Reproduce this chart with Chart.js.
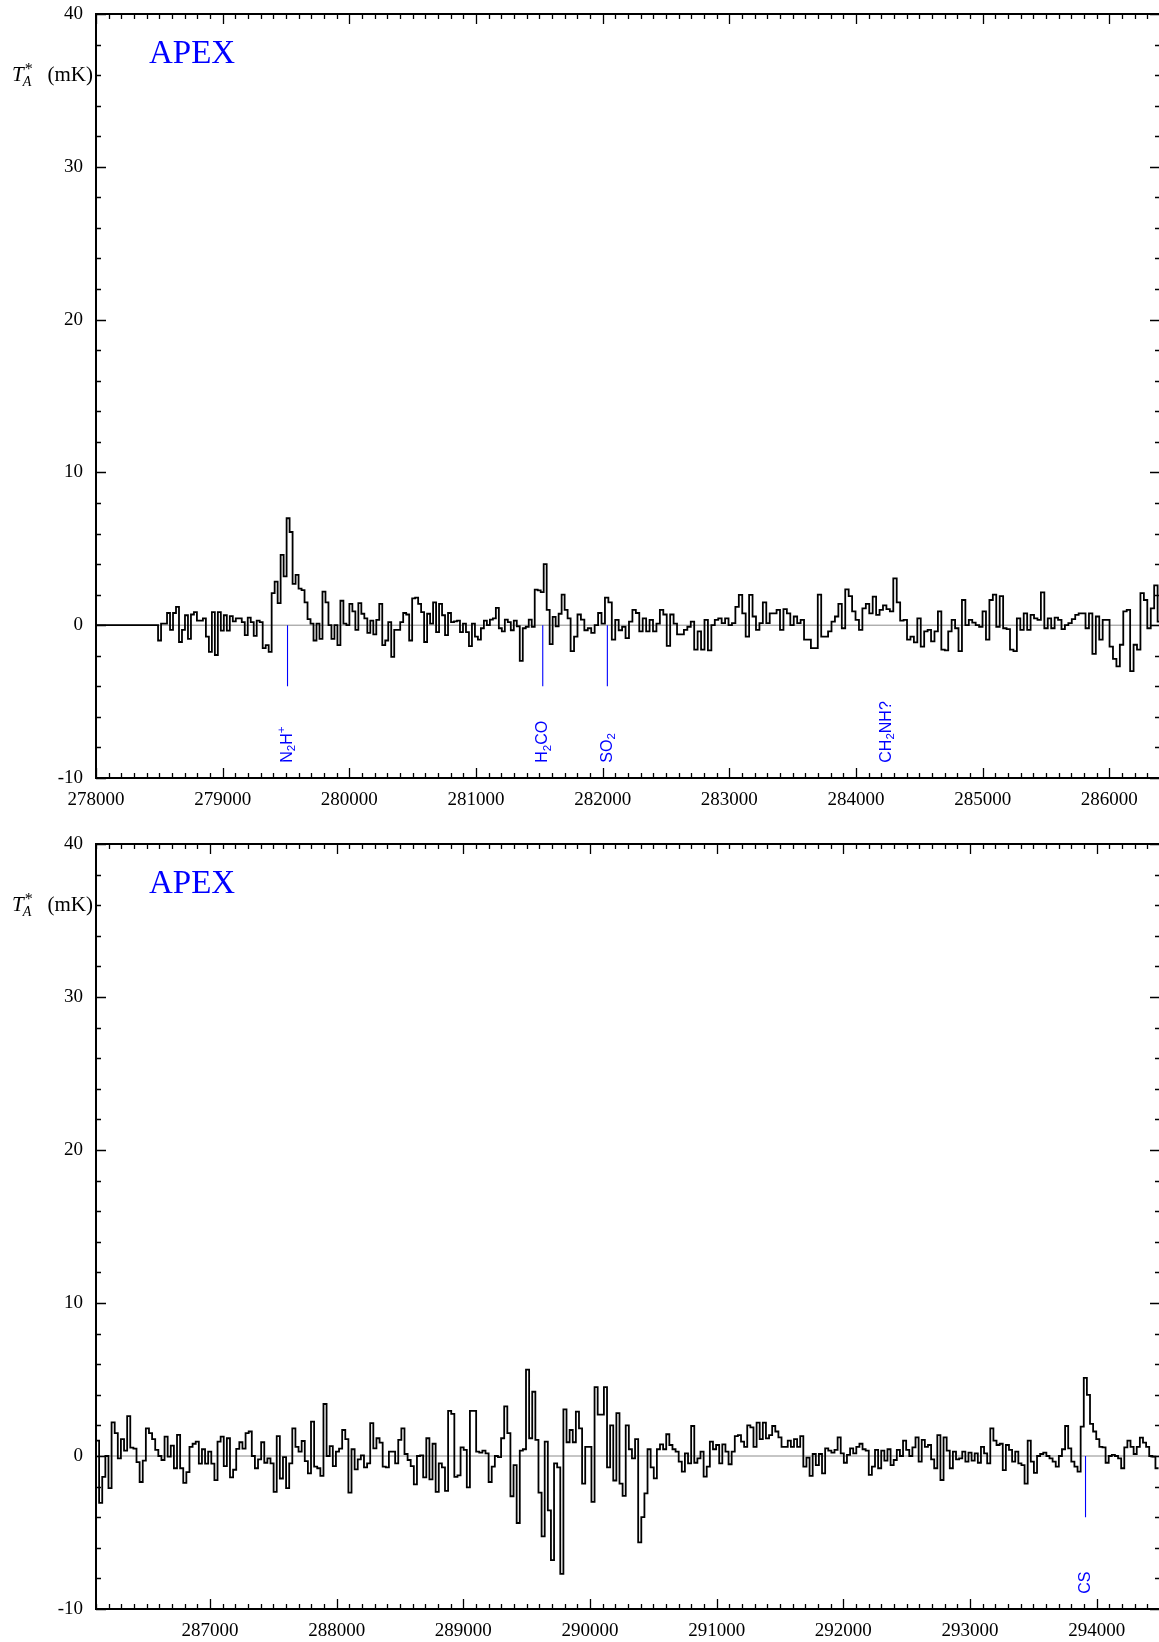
<!DOCTYPE html>
<html><head><meta charset="utf-8">
<script src="https://cdn.jsdelivr.net/npm/chart.js@4.4.1/dist/chart.umd.min.js"></script>
<style>
html,body{margin:0;padding:0;background:#fff;overflow:hidden;width:1159px;height:1642px;}
.wrap{position:absolute;left:0;width:1180px;height:812px;}
canvas{display:block;}
</style></head><body>
<div class="wrap" style="top:0"><canvas id="c1" width="1180" height="812"></canvas></div>
<div class="wrap" style="top:830px"><canvas id="c2" width="1180" height="812"></canvas></div>
<script>
// ---------- axes ----------
const topXRange = [278000, 286400];
const botXRange = [286100, 294500];
const yRange = [-10, 40];
const topXTicks = [278000, 279000, 280000, 281000, 282000, 283000, 284000, 285000, 286000];
const botXTicks = [287000, 288000, 289000, 290000, 291000, 292000, 293000, 294000];
const yTickValues = [-10, 0, 10, 20, 30, 40];
const yAxisTitle = ['T', 'A', '*', '(mK)'];
const panelTitle = 'APEX';

// ---------- top spectrum (MHz, mK) ----------
const topLeadIn = 278000;           // flat zero part before data
const topSegAStart = 278490, topSegAStep = 23.6;
const topSegA = [
 -1.0,0.1,0.1,0.8,-0.3,0.8,1.2,-1.1,-0.3,0.65,
 -0.9,0.7,0.85,0.3,0.3,0.45,-0.75,-1.75,0.85,-1.95,
 0.85,-0.35,0.65,-0.35,0.6,0.25,0.45,0.45,0.2,-0.65,
 0.5,0.2,-0.7,0.3,0.2,-1.5,-1.3,-1.75,2.1,2.85,
 1.45,4.6,3.2,7.0,6.1,2.7,3.3,2.4,2.3,1.5,
 0.4,0.1,-1.0,0.1,-0.9,2.2,1.5,0.0,-0.9,0.0,
 -1.3,1.6,0.1,0.0,1.4,0.9,-0.3,1.45,0.75,0.45,
 -0.5,0.3,-0.6,0.35,1.4,-1.3,-1.0,0.2,-2.07,-0.3,
 -0.3,0.2,0.8,0.7,-1.0,1.75,1.8,1.4,0.85,-1.1,
 0.75,0.1,1.5,-0.45,1.4,0.65,-0.65,0.8,0.2,0.25,
 0.3,-0.45,0.1,-0.45,-1.37,0.1,-0.75,-0.95,-0.2,0.3,
 0.0,0.37,0.45,1.13,-0.2,-0.4,0.37,0.2,-0.33,0.3,
 -0.07,-2.33,-0.2,-0.1,0.37,-0.1,2.33,2.28,2.17,4.0,
 1.0,-1.24,0.55,-0.07,0.75,2.0,1.0,0.45
];
const topSegBStart = 281747, topSegBStep = 27.1;
const topSegB = [
 -1.7,-0.75,0.7,0.37,-0.33,-0.2,-0.5,0.0,0.8,0.1,
 1.8,1.5,-0.95,0.35,-0.33,-0.1,-0.85,0.24,1.0,0.8,
 -0.4,0.45,-0.4,0.35,-0.4,0.1,1.0,0.7,-1.35,0.7,
 0.1,-0.6,-0.6,-0.3,-0.1,0.24,-1.6,-0.4,-1.6,0.35,
 -1.65,0.0,0.35,0.45,0.13,0.45,0.0,0.13,1.2,1.98,
 0.78,-0.75,1.98,0.57,-0.3,0.13,1.5,0.13,0.78,0.78,
 1.0,-0.3,1.05,0.78,0.0,0.57,0.13,0.35,-0.95,-0.95,
 -1.5,-1.5,2.0,-0.75,-0.75,-0.4,0.24,0.57,1.4,-0.2,
 2.35,1.9,0.9,0.35,-0.3,1.1,1.4,0.78,1.87,0.68,
 1.0,1.3,1.05,0.9,3.07,1.5,0.3,0.35,-0.95,-0.75,
 -1.13,0.45,-1.4,-0.4,-0.3,-1.06,-0.4,0.9,-1.6,-1.65,
 -0.4,0.35,-0.2,-1.7,1.65,0.0,0.35,0.17,0.0,-0.1,
 0.9,-0.95,1.65,2.0,-0.1,1.9,-0.2,-0.26,-1.6,-1.7,
 0.45,-0.3,0.78,-0.3,0.68,0.45,0.35,2.15,-0.2,0.45,
 -0.2,0.5,0.35,-0.26,0.0,0.13,0.4,0.68,0.78,0.78,
 -0.2,0.78,-1.88,0.57,-0.95,0.35,0.35,-1.4,-2.2,-2.7,
 -1.28,0.9,1.0,-3.0,-1.28,-1.6,2.1,1.65,-0.2,1.1,
 2.6,0.24
];

// ---------- bottom spectrum ----------
const botStart = 286100, botStep = 24.6;
const botValues = [
 1.0,-3.06,-1.36,0.0,-2.1,2.2,1.5,-0.15,1.1,0.35,
 2.6,0.55,0.48,-0.4,-1.7,-0.3,1.8,1.5,1.1,0.4,
 0.0,-0.26,1.27,-0.04,0.68,-0.8,1.38,-0.8,-1.75,-1.05,
 0.6,0.8,0.94,-0.5,0.44,-0.5,0.28,-0.5,-1.58,0.94,
 1.27,-0.66,1.16,-1.4,-0.9,0.46,0.9,0.48,1.5,1.6,
 0.0,-0.8,-0.22,0.9,-0.44,-0.15,-0.48,-2.35,1.3,-1.47,
 -0.08,-2.1,-0.48,1.8,0.6,0.28,0.98,-0.33,-1.14,2.25,
 -0.7,-0.8,-1.3,3.4,0.0,0.65,-0.66,0.28,0.48,1.7,
 1.1,-2.4,0.44,-0.88,-0.22,0.04,-0.74,-0.48,2.15,0.5,
 1.16,0.88,-0.7,-0.74,0.28,0.28,-0.48,1.05,1.8,0.13,
 -0.26,-0.66,-1.86,0.0,0.04,-1.4,1.16,-1.53,0.8,-2.34,
 -0.48,-0.74,-2.28,2.95,2.75,-1.36,-1.27,0.57,0.4,-2.05,
 2.95,2.95,0.28,0.22,0.35,0.17,-1.7,-0.7,0.0,-0.08,
 1.16,3.24,1.5,-2.63,-0.6,-4.38,0.35,0.44,5.65,1.16,
 4.2,1.05,-2.4,-5.25,0.94,-3.55,-6.8,-0.48,-0.74,-7.7,
 3.05,0.9,1.7,0.9,2.9,1.8,-1.8,0.6,0.6,-3.0,
 4.5,2.7,2.7,4.5,-0.74,2.0,-1.6,2.8,-1.8,-2.6,
 2.0,0.44,-0.15,1.1,-5.65,-4.0,-2.44,0.44,-0.74,-1.46,
 0.44,0.76,0.44,1.42,0.72,0.44,0.28,-0.37,-1.02,0.17,
 -0.48,1.96,-0.44,-0.15,0.28,-1.35,-0.7,0.94,0.44,0.72,
 -0.48,0.76,0.28,-0.54,0.28,1.3,1.37,0.94,0.6,2.0,
 1.87,0.6,2.18,1.1,2.18,1.15,1.37,1.96,1.6,1.22,
 0.6,0.6,1.0,0.6,1.1,0.6,1.3,-0.7,-0.1,-1.3,
 0.13,-0.59,0.13,-1.13,0.5,0.35,0.22,0.4,1.22,0.17,
 -0.44,0.07,0.5,0.17,0.6,0.8,0.44,0.35,-1.24,-0.7,
 0.4,-0.8,0.35,-0.3,0.44,-0.59,-0.26,0.4,0.0,1.0,
 0.4,0.0,0.57,1.22,-0.37,1.05,0.6,0.72,-0.22,-0.8,
 1.37,-1.57,1.22,0.35,-0.8,0.28,-0.22,-0.15,0.28,-0.37,
 0.22,-0.3,0.17,-0.44,0.6,0.17,-0.48,1.8,1.0,0.72,
 0.8,-0.92,0.72,0.4,-0.37,0.28,-0.48,-0.59,-1.8,1.0,
 -0.37,-1.1,0.0,0.13,0.22,0.0,-0.15,-0.37,-0.7,0.0,
 0.44,1.96,0.5,-0.37,-0.7,-1.02,1.92,5.1,4.0,2.1,
 1.6,1.1,0.6,0.57,-0.44,0.0,0.07,0.0,-0.15,-0.8,
 0.57,1.0,0.6,0.13,0.6,1.2,0.88,0.6,0.0,-0.04,
 -0.8
];

// ---------- line identifications ----------
const topLineFreqs  = [279512, 281527, 282037, 284240];
const topLineNames  = ['N_2H^+', 'H_2CO', 'SO_2', 'CH_2NH?'];
const topLineMarked = [true, true, true, false];
const botLineFreqs  = [293912];
const botLineNames  = ['CS'];
const botLineMarked = [true];
const markerTop = 0, markerBottom = -4, labelAt = -9;

// ---------- helpers ----------
function specPoints(segs, leadIn) {
  const pts = [];
  if (leadIn != null) pts.push({x: leadIn, y: 0});
  segs.forEach(s => s.values.forEach((v, i) => pts.push({x: s.start + i * s.step, y: v})));
  const last = segs[segs.length - 1];
  pts.push({x: last.start + last.values.length * last.step, y: last.values[last.values.length - 1]});
  return pts;
}

function drawRich(ctx, text, size, family, style) {
  const parts = [];
  for (let i = 0; i < text.length; i++) {
    const c = text[i];
    if ((c === '_' || c === '^') && i + 1 < text.length) { parts.push({t: text[i + 1], m: c}); i++; }
    else parts.push({t: c, m: ''});
  }
  let xpos = 0;
  parts.forEach(p => {
    const s = p.m ? size * 0.72 : size;
    ctx.font = `${style ? style + ' ' : ''}${s}px ${family}`;
    const dy = p.m === '_' ? size * 0.3 : (p.m === '^' ? -size * 0.38 : 0);
    ctx.fillText(p.t, xpos, dy);
    xpos += ctx.measureText(p.t).width;
  });
}

const framePlugin = {
  id: 'frame',
  afterDraw(chart, args, o) {
    const {ctx, chartArea: a, scales: {x, y}} = chart;
    ctx.save();
    ctx.strokeStyle = '#000';
    ctx.lineWidth = 1.3;
    ctx.beginPath();
    for (let v = Math.ceil(x.min / 100) * 100; v <= x.max; v += 100) {
      const px = Math.round(x.getPixelForValue(v)) + 0.5;
      const len = (v % 1000 === 0) ? 10 : 5;
      ctx.moveTo(px, a.bottom); ctx.lineTo(px, a.bottom - len);
      ctx.moveTo(px, a.top); ctx.lineTo(px, a.top + len);
    }
    for (let v = y.min; v <= y.max; v += 2) {
      const py = Math.round(y.getPixelForValue(v)) + 0.5;
      const len = (v % 10 === 0) ? 10 : 5;
      ctx.moveTo(a.left, py); ctx.lineTo(a.left + len, py);
      ctx.moveTo(a.right, py); ctx.lineTo(a.right - len, py);
    }
    ctx.stroke();
    ctx.lineWidth = 2;
    ctx.strokeRect(a.left, a.top, a.right - a.left, a.bottom - a.top);

    // line identification labels (rotated)
    ctx.fillStyle = '#0000ff';
    ctx.textBaseline = 'middle';
    ctx.textAlign = 'left';
    o.freqs.forEach((f, i) => {
      ctx.save();
      ctx.translate(x.getPixelForValue(f), y.getPixelForValue(labelAt));
      ctx.rotate(-Math.PI / 2);
      drawRich(ctx, o.names[i], 16, '"Liberation Sans", Arial, sans-serif');
      ctx.restore();
    });

    // APEX
    ctx.textBaseline = 'alphabetic';
    ctx.font = '33px "Liberation Serif", "Times New Roman", serif';
    ctx.fillText(panelTitle, a.left + 53, a.top + 49);

    // y axis title  T_A^* (mK)
    ctx.fillStyle = '#000';
    const by = y.getPixelForValue(36) + 6;
    const fam = '"Liberation Serif", "Times New Roman", serif';
    ctx.font = `21px ${fam}`;
    ctx.textAlign = 'right';
    ctx.fillText(yAxisTitle[3], a.left - 3, by);
    ctx.textAlign = 'left';
    const tx = a.left - 84;
    ctx.font = `italic 21px ${fam}`;
    ctx.fillText(yAxisTitle[0], tx, by);
    const tw = ctx.measureText(yAxisTitle[0]).width;
    ctx.font = `italic 14px ${fam}`;
    ctx.fillText(yAxisTitle[1], tx + tw - 1, by + 5);
    ctx.font = `16px ${fam}`;
    ctx.fillText(yAxisTitle[2], tx + tw + 1, by - 7);
    ctx.restore();
  }
};

function makeChart(id, xr, xticks, segs, leadIn, lf, ln, lm, plotBottom) {
  const H = 812;
  const datasets = [{
    data: specPoints(segs, leadIn), borderColor: '#000', borderWidth: 1.8,
    stepped: true, pointRadius: 0, fill: false, order: 0, borderJoinStyle: 'miter'
  }];
  lf.forEach((f, i) => {
    if (!lm[i]) return;
    datasets.push({data: [{x: f, y: markerTop}, {x: f, y: markerBottom}], borderColor: '#0000ff',
      borderWidth: 1.1, pointRadius: 0, fill: false, order: 1});
  });
  datasets.push({data: [{x: xr[0], y: 0}, {x: xr[1], y: 0}], borderColor: '#8c8c8c',
    borderWidth: 1, pointRadius: 0, fill: false, order: 2});
  const fontSerif = {family: '"Liberation Serif", "Times New Roman", serif', size: 19};
  return new Chart(document.getElementById(id), {
    type: 'line',
    data: {datasets},
    plugins: [framePlugin],
    options: {
      responsive: false, animation: false, events: [],
      layout: {padding: {left: 0, right: 20, top: 14, bottom: 0}, autoPadding: false},
      plugins: {legend: {display: false}, tooltip: {enabled: false},
        frame: {freqs: lf, names: ln}},
      scales: {
        x: {type: 'linear', min: xr[0], max: xr[1], position: 'bottom',
          grid: {display: false, drawTicks: false}, border: {display: false},
          ticks: {font: fontSerif, color: '#000', padding: 11, maxRotation: 0, autoSkip: false,
            callback: v => String(v)},
          afterBuildTicks: s => { s.ticks = xticks.map(v => ({value: v})); },
          afterFit: s => { s.height = H - plotBottom; s.paddingLeft = 0; s.paddingRight = 0; }},
        y: {type: 'linear', min: yRange[0], max: yRange[1],
          grid: {display: false, drawTicks: false}, border: {display: false},
          ticks: {font: fontSerif, color: '#000', padding: 13, callback: v => String(v)},
          afterBuildTicks: s => { s.ticks = yTickValues.map(v => ({value: v})); },
          afterFit: s => { s.width = 96; s.paddingTop = 0; s.paddingBottom = 0; }}
      }
    }
  });
}

makeChart('c1', topXRange, topXTicks,
  [{start: topSegAStart, step: topSegAStep, values: topSegA}, {start: topSegBStart, step: topSegBStep, values: topSegB}],
  topLeadIn, topLineFreqs, topLineNames, topLineMarked, 778);
makeChart('c2', botXRange, botXTicks,
  [{start: botStart, step: botStep, values: botValues}],
  null, botLineFreqs, botLineNames, botLineMarked, 779);
</script></body></html>
